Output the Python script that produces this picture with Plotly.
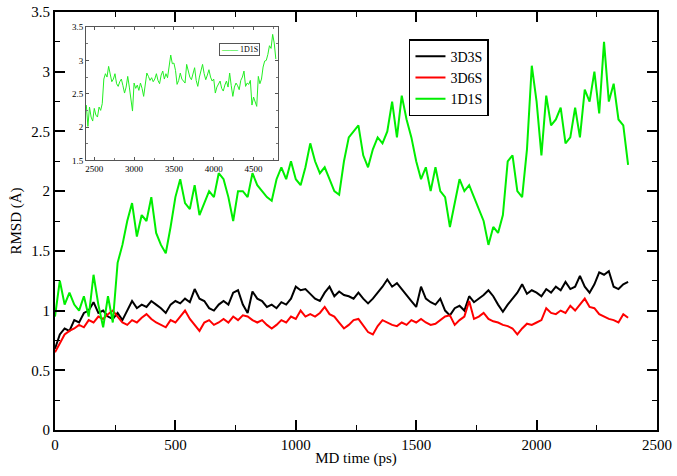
import numpy as np
import plotly.graph_objects as go

# ---------------- data ----------------
time_main = np.arange(0, 2400, 20)          # ps
time_inset = np.arange(2400, 4800, 20)      # ps

rmsd_3d3s = [
    0.68, 0.80, 0.85, 0.83, 0.92, 0.90, 0.98, 1.00, 1.07, 0.98,
    1.00, 0.95, 0.93, 0.98, 0.92, 1.00, 1.08, 1.02, 1.05, 1.03,
    1.08, 1.05, 1.02, 0.98, 1.05, 1.08, 1.06, 1.10, 1.07, 1.18,
    1.10, 1.08, 1.02, 1.00, 1.05, 1.08, 1.05, 1.15, 1.17, 1.05,
    0.98, 1.16, 1.10, 1.08, 1.03, 1.05, 1.02, 1.07, 1.05, 1.10,
    1.20, 1.17, 1.18, 1.14, 1.10, 1.08, 1.15, 1.20, 1.12, 1.16,
    1.13, 1.12, 1.10, 1.15, 1.10, 1.06, 1.10, 1.15, 1.20, 1.26,
    1.20, 1.23, 1.18, 1.12, 1.08, 1.03, 1.20, 1.10, 1.07, 1.05,
    1.10, 1.00, 0.96, 1.02, 1.04, 1.00, 1.12, 1.07, 1.10, 1.13,
    1.17, 1.12, 1.05, 0.99, 1.05, 1.10, 1.15, 1.22, 1.14, 1.17,
    1.15, 1.12, 1.18, 1.15, 1.20, 1.17, 1.24, 1.18, 1.20, 1.29,
    1.20, 1.15, 1.22, 1.32, 1.30, 1.33, 1.20, 1.18, 1.22, 1.24,
]

rmsd_3d6s = [
    0.65, 0.72, 0.80, 0.83, 0.85, 0.88, 0.86, 0.92, 0.90, 0.95,
    0.93, 0.97, 1.00, 0.95, 0.90, 0.88, 0.92, 0.90, 0.94, 0.97,
    0.93, 0.90, 0.88, 0.86, 0.92, 0.90, 0.95, 1.00, 0.93, 0.88,
    0.83, 0.90, 0.92, 0.88, 0.90, 0.93, 0.90, 0.95, 0.92, 0.96,
    0.95, 0.92, 0.90, 0.92, 0.88, 0.85, 0.88, 0.92, 0.90, 0.95,
    0.93, 1.00, 0.95, 0.97, 0.95, 0.98, 1.03, 0.97, 0.95, 0.90,
    0.85, 0.88, 0.92, 0.93, 0.88, 0.82, 0.80, 0.87, 0.92, 0.90,
    0.88, 0.87, 0.90, 0.88, 0.92, 0.90, 0.93, 0.90, 0.88, 0.89,
    0.92, 0.95, 0.96, 0.88, 0.92, 0.95, 1.08, 0.93, 0.95, 0.98,
    0.93, 0.91, 0.90, 0.88, 0.87, 0.85, 0.80, 0.85, 0.89, 0.88,
    0.90, 0.92, 1.02, 0.98, 0.97, 1.00, 0.98, 1.04, 1.00, 1.05,
    1.10, 1.03, 1.02, 0.97, 0.95, 0.93, 0.92, 0.90, 0.97, 0.94,
]

rmsd_1d1s = [
    0.95, 1.25, 1.05, 1.15, 1.05, 1.00, 1.12, 0.95, 1.30, 1.05,
    0.86, 1.12, 0.90, 1.40, 1.55, 1.75, 1.90, 1.62, 1.80, 1.75,
    1.95, 1.65, 1.55, 1.48, 1.70, 1.95, 2.10, 1.90, 1.85, 2.05,
    1.80, 1.90, 2.00, 1.95, 2.15, 2.10, 1.95, 1.75, 2.00, 2.00,
    1.95, 2.15, 2.05, 2.00, 1.95, 1.92, 2.10, 2.20, 2.10, 2.25,
    2.10, 2.05, 2.20, 2.40, 2.25, 2.15, 2.20, 2.10, 2.00, 1.97,
    2.25, 2.45, 2.50, 2.55, 2.30, 2.20, 2.35, 2.45, 2.40, 2.50,
    2.75, 2.45, 2.80, 2.60, 2.45, 2.25, 2.10, 2.20, 2.00, 2.20,
    2.00, 1.95, 1.70, 1.90, 2.10, 2.00, 2.05, 1.95, 1.85, 1.75,
    1.55, 1.70, 1.65, 1.80, 2.25, 2.30, 2.00, 1.95, 2.35, 3.05,
    2.75, 2.30, 2.80, 2.55, 2.60, 2.70, 2.40, 2.45, 2.70, 2.45,
    2.85, 2.75, 3.00, 2.65, 3.25, 2.75, 2.90, 2.60, 2.55, 2.22,
]

rmsd_1d1s_ext = [
    2.33, 2.01, 2.30, 2.15, 2.09, 2.28, 2.18, 2.15, 2.30, 2.25,
    2.35, 2.72, 2.80, 2.75, 2.91, 2.78, 2.68, 2.72, 2.80, 2.65,
    2.61, 2.68, 2.72, 2.62, 2.51, 2.60, 2.76, 2.60, 2.40, 2.24,
    2.66, 2.58, 2.63, 2.55, 2.66, 2.58, 2.46, 2.65, 2.81, 2.76,
    2.70, 2.74, 2.68, 2.72, 2.80, 2.70, 2.65, 2.78, 2.84, 2.72,
    2.80, 2.74, 2.90, 3.08, 2.95, 2.96, 2.85, 2.64, 2.70, 2.81,
    2.72, 2.68, 2.66, 2.94, 2.82, 2.75, 2.71, 2.80, 2.89, 2.70,
    2.61, 2.75, 2.85, 2.94, 2.80, 2.71, 2.78, 2.86, 2.75, 2.69,
    2.72, 2.51, 2.60, 2.66, 2.69, 2.58, 2.54, 2.63, 2.69, 2.60,
    2.81, 2.62, 2.46, 2.60, 2.66, 2.62, 2.56, 2.70, 2.75, 2.84,
    2.61, 2.66, 2.64, 2.70, 2.33, 2.45, 2.38, 2.31, 2.76, 2.65,
    2.72, 2.90, 2.99, 3.00, 3.09, 3.22, 3.18, 3.39, 3.26, 3.02,
]

x_ticks_main = [0, 500, 1000, 1500, 2000, 2500]
y_ticks_main = [0, 0.5, 1, 1.5, 2, 2.5, 3, 3.5]
x_ticks_inset = [2500, 3000, 3500, 4000, 4500]
y_ticks_inset = [1.5, 2, 2.5, 3, 3.5]
y_ticktext_inset = ["1.5", "2", "2.5", "3", "3.5"]

# ---------------- figure ----------------
FONT = "Liberation Serif, Times New Roman, serif"
GREEN = "#00ee00"
fig = go.Figure()

fig.add_trace(go.Scatter(x=time_main, y=rmsd_3d3s, mode="lines", name="3D3S",
                         line=dict(color="black", width=2)))
fig.add_trace(go.Scatter(x=time_main, y=rmsd_3d6s, mode="lines", name="3D6S",
                         line=dict(color="#ff0000", width=2)))
fig.add_trace(go.Scatter(x=time_main, y=rmsd_1d1s, mode="lines", name="1D1S",
                         line=dict(color=GREEN, width=2)))
fig.add_trace(go.Scatter(x=time_inset, y=rmsd_1d1s_ext, mode="lines", name="1D1S",
                         line=dict(color="#22ee22", width=1),
                         xaxis="x2", yaxis="y2", showlegend=False))

axis_common = dict(showgrid=False, zeroline=False, automargin=False)

fig.update_layout(
    width=677, height=476,
    margin=dict(l=55, r=20, t=12, b=46, autoexpand=False),
    paper_bgcolor="white", plot_bgcolor="white",
    font=dict(family=FONT, color="black", size=15),
    xaxis=dict(
        **axis_common,
        range=[0, 2500], tickvals=x_ticks_main,
        showline=True, linecolor="black", linewidth=2, mirror="ticks",
        ticks="inside", ticklen=10, tickwidth=1.5, tickcolor="black",
        minor=dict(ticks="inside", ticklen=5, dtick=250, tickcolor="black", tickwidth=1.2),
        tickfont=dict(family=FONT, size=15),
        title=dict(text="MD time (ps)", font=dict(family=FONT, size=15), standoff=0),
    ),
    yaxis=dict(
        **axis_common,
        range=[0, 3.5], tickvals=y_ticks_main,
        showline=True, linecolor="black", linewidth=2, mirror="ticks",
        ticks="inside", ticklen=10, tickwidth=1.5, tickcolor="black",
        minor=dict(ticks="inside", ticklen=5, dtick=0.25, tickcolor="black", tickwidth=1.2),
        tickfont=dict(family=FONT, size=15),
        title=dict(text="RMSD (Å)", font=dict(family=FONT, size=15), standoff=6),
    ),
    xaxis2=dict(
        **axis_common,
        domain=[0.0515, 0.370], anchor="y2", range=[2396, 4804],
        tickvals=x_ticks_inset,
        showline=True, linecolor="#555555", linewidth=1, mirror="ticks",
        ticks="inside", ticklen=3, tickwidth=0.8, tickcolor="#555555",
        minor=dict(ticks="inside", ticklen=2, dtick=250, tickcolor="#777777"),
        tickfont=dict(family=FONT, size=9),
    ),
    yaxis2=dict(
        **axis_common,
        domain=[0.645, 0.964], anchor="x2", range=[1.5, 3.5],
        tickvals=y_ticks_inset, ticktext=y_ticktext_inset,
        showline=True, linecolor="#555555", linewidth=1, mirror="ticks",
        ticks="inside", ticklen=3, tickwidth=0.8, tickcolor="#555555",
        minor=dict(ticks="inside", ticklen=2, dtick=0.25, tickcolor="#777777"),
        tickfont=dict(family=FONT, size=9),
    ),
    legend=dict(
        x=0.588, y=0.935, xanchor="left", yanchor="top",
        bgcolor="white", bordercolor="black", borderwidth=1.5,
        font=dict(family=FONT, size=14), tracegroupgap=0,
        itemwidth=30,
    ),
    annotations=[
        dict(
            xref="paper", yref="paper", x=0.2725, y=0.926,
            xanchor="left", yanchor="top", showarrow=False,
            text=f'<span style="color:{GREEN}">——</span> 1D1S',
            font=dict(family=FONT, size=8, color="black"),
            bordercolor="#555555", borderwidth=1, borderpad=1, bgcolor="white",
        )
    ],
)

fig.write_html(
    "out.html",
    config={"displayModeBar": False},
    post_script="document.body.style.margin='0';document.body.style.padding='0';",
)
